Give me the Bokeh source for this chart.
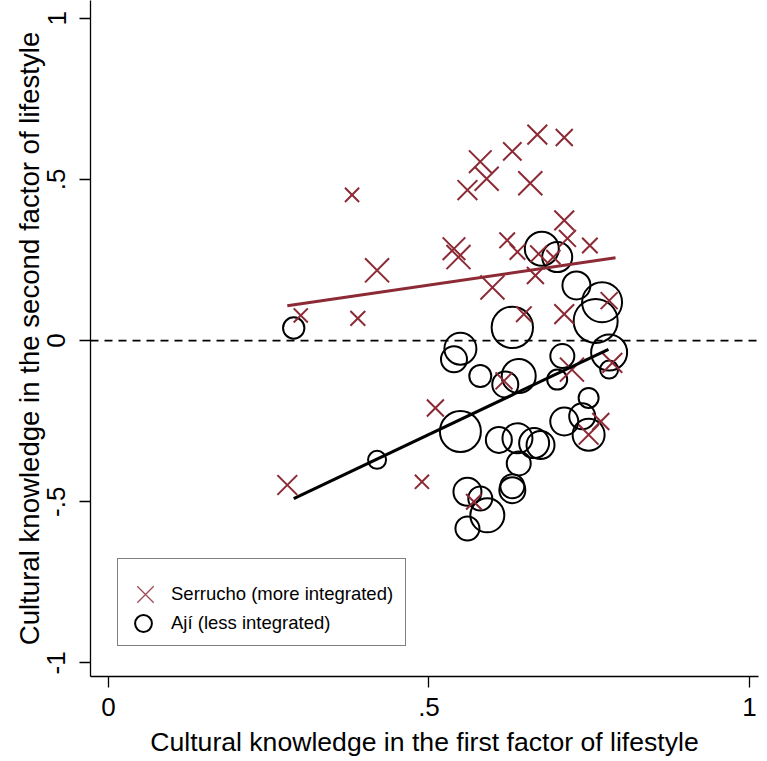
import numpy as np
from bokeh.plotting import figure
from bokeh.models import Span, FixedTicker, Legend, LegendItem, Range1d, ColumnDataSource
from bokeh.embed import file_html
from bokeh.resources import INLINE

# ---- data ----
ser_x = [0.380, 0.419, 0.389, 0.300, 0.580, 0.590, 0.560, 0.630, 0.669, 0.658,
         0.539, 0.546, 0.622, 0.638, 0.599, 0.648, 0.711, 0.711, 0.716, 0.751,
         0.671, 0.666, 0.694, 0.781, 0.711, 0.723, 0.786, 0.617, 0.768, 0.749,
         0.510, 0.279, 0.489, 0.570]
ser_y = [0.452, 0.218, 0.069, 0.078, 0.555, 0.502, 0.467, 0.587, 0.639, 0.488,
         0.285, 0.259, 0.311, 0.275, 0.165, 0.082, 0.630, 0.373, 0.317, 0.295,
         0.269, 0.202, 0.259, 0.124, 0.082, -0.090, -0.069, -0.125, -0.251, -0.292,
         -0.209, -0.448, -0.438, -0.500]
ser_w = [1.00, 2.89, 1.10, 1.00, 2.56, 2.89, 1.96, 1.69, 1.96, 2.89,
         2.56, 2.89, 1.21, 1.21, 2.89, 1.21, 1.44, 1.96, 1.44, 1.21,
         1.44, 1.44, 1.00, 1.44, 1.96, 2.89, 1.96, 1.44, 1.44, 1.96,
         1.44, 1.96, 1.00, 1.21]

aji_x = [0.289, 0.630, 0.549, 0.539, 0.580, 0.640, 0.619, 0.549, 0.609, 0.638,
         0.664, 0.640, 0.419, 0.560, 0.580, 0.630, 0.591, 0.560, 0.674, 0.711,
         0.739, 0.749, 0.749, 0.730, 0.770, 0.760, 0.781, 0.781, 0.708, 0.700,
         0.676, 0.700, 0.630]
aji_y = [0.039, 0.041, -0.025, -0.058, -0.110, -0.110, -0.136, -0.282, -0.308, -0.303,
         -0.318, -0.381, -0.370, -0.469, -0.490, -0.464, -0.542, -0.583, -0.324, -0.251,
         -0.235, -0.292, -0.178, 0.171, 0.119, 0.061, -0.037, -0.090, -0.048, -0.121,
         0.285, 0.259, -0.452]
aji_w = [1.14, 4.28, 2.56, 1.69, 1.21, 2.89, 1.69, 4.20, 1.69, 2.25,
         2.25, 1.44, 0.81, 1.96, 1.44, 1.69, 2.89, 1.44, 1.96, 1.96,
         1.69, 2.56, 1.00, 1.96, 4.00, 4.84, 3.24, 0.81, 1.44, 1.00,
         2.89, 2.25, 1.44]

fit_ser_x = [0.279, 0.791]
fit_ser_y = [0.108, 0.257]
fit_aji_x = [0.289, 0.780]
fit_aji_y = [-0.490, -0.027]

x_ticks = [0, 0.5, 1]
x_tick_labels = ["0", ".5", "1"]
y_ticks = [-1, -0.5, 0, 0.5, 1]
y_tick_labels = ["-1", "-.5", "0", ".5", "1"]

ser_label = "Serrucho (more integrated)"
aji_label = "Ají (less integrated)"
x_title = "Cultural knowledge in the first factor of lifestyle"
y_title = "Cultural knowledge in the second factor of lifestyle"

# ---- styling ----
RED = "#8C2A36"
FONT = "Liberation Sans"

p = figure(width=767, height=761, output_backend="svg", toolbar_location=None,
           x_range=Range1d(-0.028, 1.014), y_range=Range1d(-1.042, 1.055),
           min_border_left=90, min_border_right=9, min_border_top=0, min_border_bottom=85)
p.outline_line_color = None
p.xgrid.visible = False
p.ygrid.visible = False
p.background_fill_color = "white"

ser_src = ColumnDataSource(dict(x=ser_x, y=ser_y, s=[20 * np.sqrt(w) for w in ser_w]))
aji_src = ColumnDataSource(dict(x=aji_x, y=aji_y, s=[20 * np.sqrt(w) for w in aji_w]))

p.add_layout(Span(location=0, dimension="width", line_color="black",
                  line_width=1.8, line_dash="8 6"))

p.scatter("x", "y", size="s", source=aji_src, marker="circle", fill_color=None,
          line_color="black", line_width=2)
p.scatter("x", "y", size="s", source=ser_src, marker="x",
          line_color=RED, line_width=2)
p.line(fit_ser_x, fit_ser_y, line_color=RED, line_width=3)
p.line(fit_aji_x, fit_aji_y, line_color="black", line_width=3)

# ---- legend ----
# invisible renderers for the framed legend (labels + box)
inv1 = p.scatter(x=[np.nan], y=[np.nan], marker="circle", line_alpha=0, fill_alpha=0)
inv2 = p.scatter(x=[np.nan], y=[np.nan], marker="circle", line_alpha=0, fill_alpha=0)
# legend-only symbol renderers (single undefined point, never drawn in the plot)
leg_ser = p.scatter(x=[np.nan], y=[np.nan], marker="x", line_color="#A04A56", line_width=1.3)
leg_aji = p.scatter(x=[np.nan], y=[np.nan], marker="circle", fill_color=None,
                    line_color="black", line_width=2)

legend = Legend(items=[LegendItem(label=ser_label, renderers=[inv1]),
                       LegendItem(label=aji_label, renderers=[inv2])],
                location=(27, 30), orientation="vertical",
                glyph_width=42, glyph_height=29, spacing=0, padding=8, margin=0,
                label_standoff=3, label_width=226,
                label_text_font=FONT, label_text_font_size="18.5px", label_text_color="black",
                border_line_color="black", border_line_width=1.5,
                background_fill_color="white", background_fill_alpha=1.0,
                title=" ", title_text_font_size="4px", title_standoff=7)
p.add_layout(legend)

sym_ser = Legend(items=[LegendItem(label=" ", renderers=[leg_ser])],
                 location=(26, 53), glyph_width=58, glyph_height=58, padding=0, margin=0,
                 label_standoff=0, label_width=0, label_text_font_size="4px",
                 border_line_color=None, background_fill_alpha=0)
sym_aji = Legend(items=[LegendItem(label=" ", renderers=[leg_aji])],
                 location=(32, 32), glyph_width=42, glyph_height=42, padding=0, margin=0,
                 label_standoff=0, label_width=0, label_text_font_size="4px",
                 border_line_color=None, background_fill_alpha=0)
p.add_layout(sym_ser)
p.add_layout(sym_aji)

for ax in (p.xaxis[0], p.yaxis[0]):
    ax.axis_line_color = "black"
    ax.axis_line_width = 1.3
    ax.major_tick_line_color = "black"
    ax.major_tick_line_width = 1.3
    ax.major_tick_out = 11
    ax.major_tick_in = 0
    ax.minor_tick_line_color = None
    ax.major_label_text_font = FONT
    ax.major_label_text_font_size = "26px"
    ax.major_label_text_color = "black"
    ax.axis_label_text_font = FONT
    ax.axis_label_text_font_style = "normal"
    ax.axis_label_text_color = "black"

p.xaxis.axis_label_text_font_size = "26.6px"
p.yaxis.axis_label_text_font_size = "27.6px"
p.xaxis.ticker = FixedTicker(ticks=x_ticks)
p.xaxis.major_label_overrides = {t: l for t, l in zip(x_ticks, x_tick_labels)}
p.yaxis.ticker = FixedTicker(ticks=y_ticks)
p.yaxis.major_label_overrides = {t: l for t, l in zip(y_ticks, y_tick_labels)}
p.xaxis.axis_label = x_title
p.yaxis.axis_label = y_title
p.yaxis.major_label_orientation = "vertical"
p.xaxis.major_label_standoff = 10
p.xaxis.axis_label_standoff = 8
p.yaxis.major_label_standoff = 14
p.yaxis.axis_label_standoff = 0

open("out.html", "w").write(file_html(p, INLINE))
